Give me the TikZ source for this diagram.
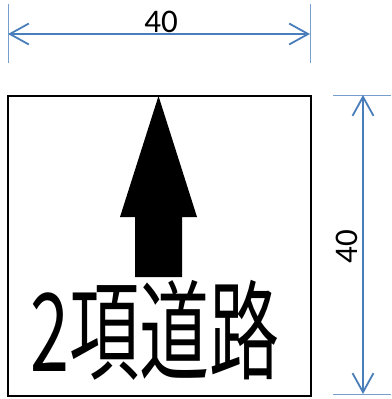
\documentclass[tikz,border=0pt]{standalone}
\usepackage{fontspec}
\setmainfont{Carlito}
\newfontfamily\jpfont{Noto Sans CJK JP}
\usepackage{tikz}
\usetikzlibrary{arrows.meta}

\definecolor{dimblue}{RGB}{74,126,187}
\tikzset{
    dimline/.style={dimblue, line width=1.8pt, {Straight Barb[length=19pt, width=21pt]}-{Straight Barb[length=19pt, width=21pt]}},
    extline/.style={dimblue!75, line width=1pt},
    dimlabel/.style={font=\fontsize{33}{33}\selectfont, inner sep=0pt},
    signbox/.style={draw, line width=1.4pt, minimum width=303pt, minimum height=300pt, inner sep=0pt},
}

\begin{document}
\begin{tikzpicture}[x=1pt, y=-1pt]
        \useasboundingbox (0, 0) rectangle (391, 399);
        \node[signbox] (sign) at (159.5, 246) {};

        % top dimension
        \coordinate (topL) at (8, 4);
        \coordinate (topR) at (310, 4);
        \draw[extline] (topL) -- ++(0, 59);
        \draw[extline] (topR) -- ++(0, 59);
        \draw[dimline] ([yshift=-30pt]topL) -- ([yshift=-30pt]topR);
        \node[dimlabel] (wlabel) at (161, 22) {40};

        % right dimension
        \coordinate (rightT) at (333, 95);
        \coordinate (rightB) at (333, 394);
        \draw[extline] (rightT) -- ++(58, 0);
        \draw[extline] (rightB) -- ++(58, 0);
        \draw[dimline] ([xshift=30pt]rightT) -- ([xshift=30pt]rightB);
        \node[dimlabel, rotate=90] (hlabel) at (347, 247) {40};

        % arrow and text
        \fill (158.5, 96) -- (197, 217) -- (182, 217) -- (182, 277) -- (135, 277) -- (135, 217) -- (120, 217) -- cycle;
        \node[font=\jpfont\fontsize{70}{70}\selectfont, yscale=1.55, inner sep=0pt] (name) at (155, 330) {2項道路};
    \end{tikzpicture}
\end{document}
